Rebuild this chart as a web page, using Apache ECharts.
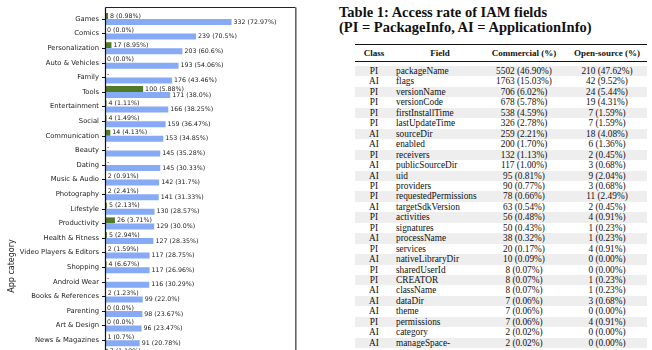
<!DOCTYPE html>
<html>
<head>
<meta charset="utf-8">
<script src="https://cdn.jsdelivr.net/npm/echarts@6/dist/echarts.min.js"></script>
<style>
  html, body { margin: 0; padding: 0; width: 652px; height: 350px; overflow: hidden; background: #fff; }
  #chart { position: absolute; left: 0; top: 0; width: 330px; height: 372px; }
  #title { position: absolute; left: 339px; top: 5px; font: bold 14.5px/15px "Liberation Serif", serif; color: #111; white-space: nowrap; }
  #table { position: absolute; left: 355px; top: 43px; width: 292px; height: 320px; font: 9.3px "Liberation Serif", serif; color: #111; }
  .rule { position: absolute; left: 0; width: 292px; background: #111; }
  .row { position: absolute; left: 0; width: 292px; height: 10.45px; line-height: 10.45px; white-space: nowrap; }
  .row.shade { background: #eeeeee; }
  .cell { position: absolute; top: 0; }
  .head { font-weight: bold; font-size: 9px; }
</style>
</head>
<body>
<div id="chart"></div>
<div id="title">Table 1: Access rate of IAM fields<br>(PI = PackageInfo, AI = ApplicationInfo)</div>
<div id="table"></div>
<script>
// ---- bar chart data: apps per category that read IAM fields ----
const categories = ['Games', 'Comics', 'Personalization', 'Auto & Vehicles', 'Family', 'Tools',
  'Entertainment', 'Social', 'Communication', 'Beauty', 'Dating', 'Music & Audio', 'Photography',
  'Lifestyle', 'Productivity', 'Health & Fitness', 'Video Players & Editors', 'Shopping',
  'Android Wear', 'Books & References', 'Parenting', 'Art & Design', 'News & Magazines', ''];
// null = no data ("-")
const greenCounts = [8, 0, 17, 0, null, 100, 4, 4, 14, null, null, 2, 2, 5, 26, 5, 2, 4, null, 2, 0, 0, 1, 7];
const greenPct = [0.98, 0.0, 8.95, 0.0, null, 5.88, 1.11, 1.49, 4.13, null, null, 0.91, 2.41, 2.13, 3.71, 2.94, 1.59, 6.67, null, 1.23, 0.0, 0.0, 0.7, 1.19];
const blueCounts = [332, 239, 203, 193, 176, 171, 166, 159, 153, 145, 145, 142, 141, 130, 129, 127, 117, 117, 116, 99, 98, 96, 91, null];
const bluePct = [72.97, 70.5, 60.6, 54.06, 43.46, 38.0, 38.25, 36.47, 34.85, 35.28, 30.33, 31.7, 31.33, 28.57, 30.0, 28.35, 28.75, 26.96, 30.29, 22.0, 23.67, 23.47, 20.78, null];
const xMax = 500;

// ---- table data: access rate of IAM fields ----
const fieldClass = ['PI', 'AI', 'PI', 'PI', 'PI', 'PI', 'AI', 'AI', 'PI', 'AI', 'AI', 'PI', 'PI', 'AI',
  'PI', 'PI', 'AI', 'PI', 'AI', 'PI', 'PI', 'AI', 'AI', 'AI', 'PI', 'AI', 'AI'];
const fieldName = ['packageName', 'flags', 'versionName', 'versionCode', 'firstInstallTime', 'lastUpdateTime',
  'sourceDir', 'enabled', 'receivers', 'publicSourceDir', 'uid', 'providers', 'requestedPermissions',
  'targetSdkVersion', 'activities', 'signatures', 'processName', 'services', 'nativeLibraryDir',
  'sharedUserId', 'CREATOR', 'className', 'dataDir', 'theme', 'permissions', 'category', 'manageSpace-'];
const commercialCount = [5502, 1763, 706, 678, 538, 326, 259, 200, 132, 117, 95, 90, 78, 63, 56, 50, 38, 20, 10, 8, 8, 8, 7, 7, 7, 2, 2];
const commercialPct = [46.90, 15.03, 6.02, 5.78, 4.59, 2.78, 2.21, 1.70, 1.13, 1.00, 0.81, 0.77, 0.66, 0.54, 0.48, 0.43, 0.32, 0.17, 0.09, 0.07, 0.07, 0.07, 0.06, 0.06, 0.06, 0.02, 0.02];
const openCount = [210, 42, 24, 19, 7, 7, 18, 6, 2, 3, 9, 3, 11, 2, 4, 1, 1, 4, 0, 0, 1, 1, 3, 0, 4, 0, 0];
const openPct = [47.62, 9.52, 5.44, 4.31, 1.59, 1.59, 4.08, 1.36, 0.45, 0.68, 2.04, 0.68, 2.49, 0.45, 0.91, 0.23, 0.23, 0.91, 0.00, 0.00, 0.23, 0.23, 0.68, 0.00, 0.91, 0.00, 0.00];
const tableHeader = ['Class', 'Field', 'Commercial (%)', 'Open-source (%)'];

// percentages print like Python floats: 38.0, 70.5, 0.98
function pyNum(v) { return Number.isInteger(v) ? v.toFixed(1) : String(v); }

const labelFont = { fontFamily: 'DejaVu Sans', fontSize: 6.3, color: '#222' };

const chart = echarts.init(document.getElementById('chart'), null, { renderer: 'canvas' });
chart.setOption({
  animation: false,
  grid: { left: 105, top: 11.7, width: 190.6, height: 14.6 * categories.length, containLabel: false },
  xAxis: {
    type: 'value', min: 0, max: xMax, show: false
  },
  yAxis: {
    type: 'category', data: categories, inverse: true,
    axisLine: { show: false },
    axisTick: { show: true, alignWithLabel: true, length: 3, lineStyle: { color: '#111', width: 1 } },
    axisLabel: { margin: 6, fontFamily: 'DejaVu Sans', fontSize: 6.8, color: '#222' },
    splitLine: { show: false }
  },
  series: [
    {
      type: 'bar', name: 'green', barWidth: 6, barGap: '0%',
      data: greenCounts.map(v => v == null ? 0 : v),
      itemStyle: { color: '#4f7b28' },
      label: {
        show: true, position: 'right', distance: 2, ...labelFont,
        formatter: p => greenCounts[p.dataIndex] == null ? '-' :
          greenCounts[p.dataIndex] + ' (' + pyNum(greenPct[p.dataIndex]) + '%)'
      }
    },
    {
      type: 'bar', name: 'blue', barWidth: 6, barGap: '0%',
      data: blueCounts,
      itemStyle: { color: '#86aaf6' },
      label: {
        show: true, position: 'right', distance: 2, ...labelFont,
        formatter: p => blueCounts[p.dataIndex] + ' (' + pyNum(bluePct[p.dataIndex]) + '%)'
      }
    }
  ],
  graphic: [
    // axes frame
    { type: 'line', shape: { x1: 105.5, y1: 7.5, x2: 295.5, y2: 7.5 }, style: { stroke: '#222', lineWidth: 1 }, z: 10 },
    { type: 'line', shape: { x1: 105.5, y1: 7.5, x2: 105.5, y2: 420 }, style: { stroke: '#111', lineWidth: 1.2 }, z: 10 },
    { type: 'line', shape: { x1: 295.8, y1: 7.5, x2: 295.8, y2: 420 }, style: { stroke: '#666', lineWidth: 1.6 }, z: 10 },
    {
      type: 'text', x: 12, y: 266, rotation: Math.PI / 2,
      style: { text: 'App category', fontFamily: 'DejaVu Sans', fontSize: 8, fill: '#222', align: 'center', verticalAlign: 'middle' }
    }
  ]
});

// ---- table ----
const table = document.getElementById('table');
const colLeft = [0, 38, 126, 212];
const colWidth = [38, 88, 86, 80];
const colAlign = ['center', 'left', 'center', 'center'];

function addRule(top, h) {
  const r = document.createElement('div');
  r.className = 'rule';
  r.style.top = top + 'px';
  r.style.height = h + 'px';
  table.appendChild(r);
}
function addRow(cells, top, cls, height) {
  const row = document.createElement('div');
  row.className = 'row ' + cls;
  row.style.top = top + 'px';
  if (height) { row.style.height = height + 'px'; row.style.lineHeight = height + 'px'; }
  cells.forEach((txt, c) => {
    const cell = document.createElement('div');
    cell.className = 'cell';
    cell.style.left = (colLeft[c] + (c === 1 ? 3 : 0)) + 'px';
    cell.style.width = colWidth[c] + 'px';
    cell.style.textAlign = c === 1 && cls.indexOf('head') < 0 ? 'left' : 'center';
    cell.textContent = txt;
    row.appendChild(cell);
  });
  table.appendChild(row);
}

addRule(0.5, 1.4);
addRow(tableHeader, 1.5, 'head', 16);
addRule(17.6, 0.8);
const firstRowTop = 23;
const rowH = 10.45;
fieldName.forEach((name, i) => {
  addRow([
    fieldClass[i],
    name,
    commercialCount[i] + ' (' + commercialPct[i].toFixed(2) + '%)',
    openCount[i] + ' (' + openPct[i].toFixed(2) + '%)'
  ], firstRowTop + i * rowH, i % 2 === 0 ? 'shade' : '');
});
</script>
</body>
</html>
